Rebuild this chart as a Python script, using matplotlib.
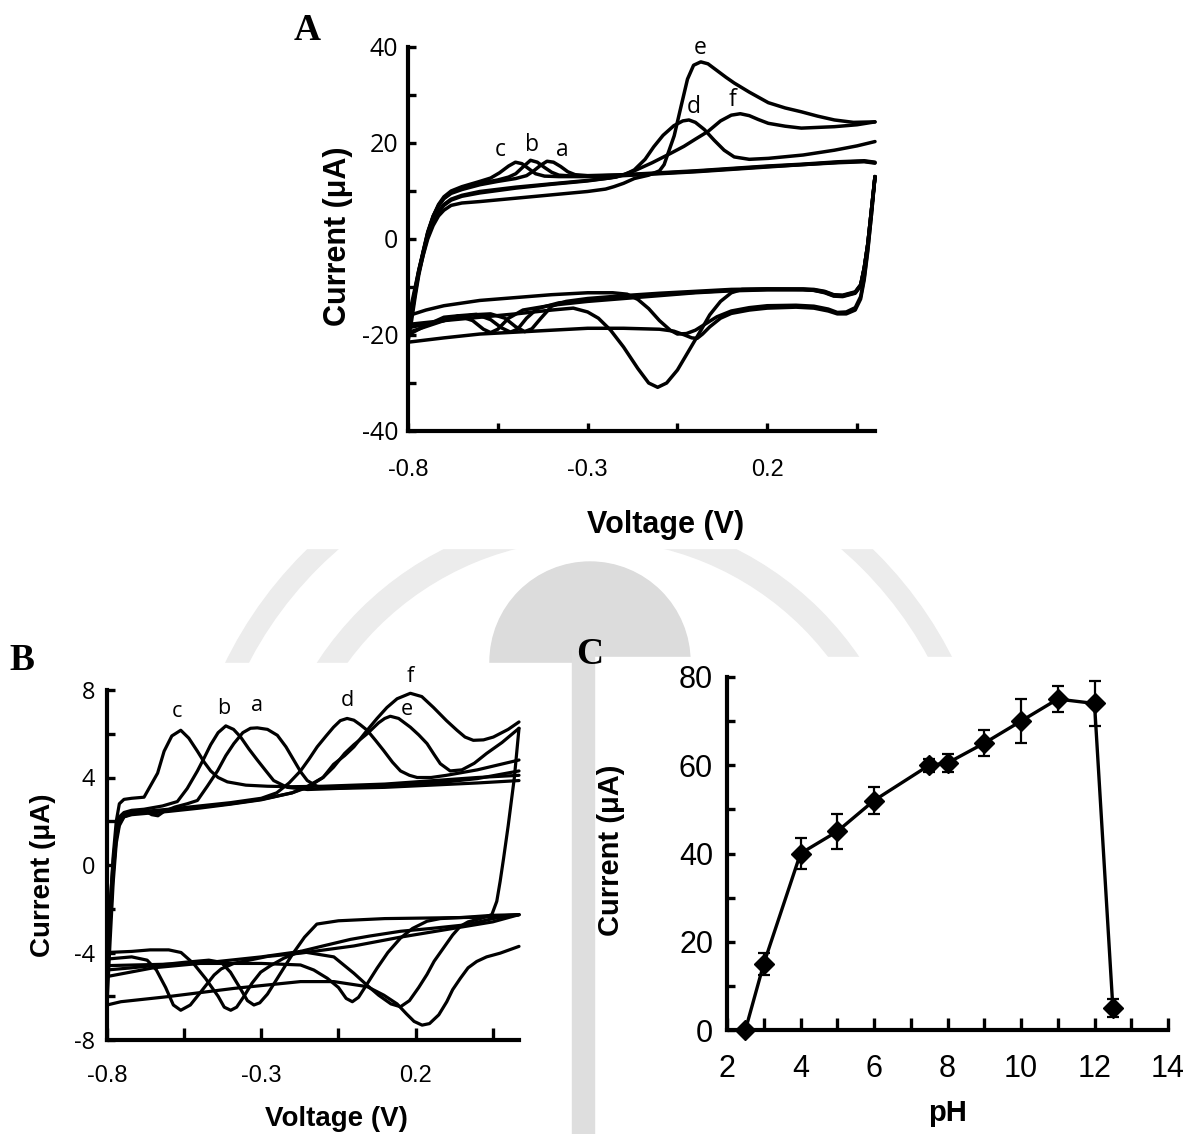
import numpy as np
import matplotlib
matplotlib.use('Agg')
import matplotlib.pyplot as plt
from matplotlib.patches import Rectangle, Wedge, Circle
from matplotlib.transforms import Affine2D

W, H = 1183, 1134

# ---------------- panel A : CVs (voltage V, current uA) ----------------
A_fwd_a = [(-0.8,-18.5),(-0.79,-15),(-0.78,-10.5),(-0.77,-6.5),(-0.757,-2.3),(-0.745,1.5),(-0.73,4.8),(-0.715,7),(-0.7,8.4),(-0.68,9.5),(-0.65,10.3),(-0.6,11.3),(-0.55,12),(-0.5,12.6),(-0.47,13.2),(-0.45,14.2),(-0.43,15.4),(-0.413,16.2),(-0.395,16),(-0.375,15.1),(-0.355,14),(-0.335,13.4),(-0.3,13.2),(-0.2,13.4),(-0.1,13.8),(0.0,14.2),(0.1,14.7),(0.2,15.2),(0.3,15.6),(0.4,16.1),(0.47,16.3),(0.5,16.0)]
A_fwd_b = [(-0.8,-19.5),(-0.79,-15.5),(-0.78,-11),(-0.77,-6.8),(-0.757,-2.5),(-0.745,1.3),(-0.73,4.6),(-0.715,6.9),(-0.7,8.5),(-0.68,9.7),(-0.65,10.6),(-0.6,11.6),(-0.55,12.3),(-0.52,12.9),(-0.5,13.6),(-0.48,15),(-0.459,16.4),(-0.44,16),(-0.42,14.9),(-0.4,13.9),(-0.38,13.3),(-0.34,13.1),(-0.3,13.1),(-0.2,13.3),(-0.1,13.7),(0.0,14.1),(0.1,14.6),(0.2,15.1),(0.3,15.5),(0.4,16.0),(0.47,16.2),(0.5,15.9)]
A_fwd_c = [(-0.8,-20),(-0.79,-16),(-0.78,-11.3),(-0.77,-7),(-0.757,-2.6),(-0.745,1.2),(-0.73,4.7),(-0.715,7.2),(-0.7,8.8),(-0.68,10),(-0.65,10.9),(-0.6,12),(-0.57,12.7),(-0.545,13.8),(-0.52,15.2),(-0.501,16),(-0.483,15.7),(-0.465,14.7),(-0.445,13.6),(-0.42,13.1),(-0.38,13),(-0.3,13),(-0.2,13.2),(-0.1,13.6),(0.0,14.0),(0.1,14.5),(0.2,15.0),(0.3,15.5),(0.4,15.9),(0.47,16.1),(0.5,15.8)]
A_fwd_d = [(-0.8,-16),(-0.79,-13.5),(-0.78,-10),(-0.77,-6.5),(-0.757,-2.6),(-0.745,0.8),(-0.73,3.8),(-0.715,5.8),(-0.7,7.2),(-0.68,8.3),(-0.65,9.1),(-0.6,9.9),(-0.5,10.8),(-0.4,11.5),(-0.3,12.2),(-0.24,12.7),(-0.2,13.3),(-0.17,14.4),(-0.14,16.6),(-0.116,19.2),(-0.09,21.6),(-0.06,23.6),(-0.035,24.6),(-0.018,24.8),(0.0,24.3),(0.025,22.8),(0.052,20.6),(0.08,18.5),(0.108,17.1),(0.15,16.6),(0.203,16.8),(0.3,17.5),(0.387,18.5),(0.45,19.4),(0.5,20.3)]
A_fwd_e = [(-0.8,-17.8),(-0.79,-14.5),(-0.78,-10.5),(-0.77,-7),(-0.757,-3.2),(-0.745,0),(-0.73,2.8),(-0.715,4.8),(-0.7,6),(-0.68,7),(-0.65,7.5),(-0.6,7.8),(-0.5,8.5),(-0.4,9.2),(-0.3,9.9),(-0.25,10.4),(-0.227,10.9),(-0.2,11.6),(-0.17,12.6),(-0.13,13.3),(-0.1,14.2),(-0.087,15.5),(-0.073,18.5),(-0.059,21.5),(-0.04,27.6),(-0.022,33.3),(-0.005,36.2),(0.015,36.9),(0.035,36.5),(0.06,35.1),(0.085,33.7),(0.108,32.5),(0.15,30.6),(0.203,28.4),(0.25,27.3),(0.295,26.5),(0.34,25.6),(0.387,24.8),(0.44,24.3),(0.5,24.4)]
A_fwd_f = [(-0.8,-21.5),(-0.79,-17),(-0.78,-12),(-0.77,-7.5),(-0.757,-3),(-0.745,0.6),(-0.73,3.6),(-0.715,5.6),(-0.7,7),(-0.68,8.1),(-0.65,8.9),(-0.6,9.6),(-0.5,10.6),(-0.4,11.4),(-0.3,12.1),(-0.22,12.9),(-0.17,14.2),(-0.12,15.9),(-0.07,17.8),(-0.032,19.3),(0.0,20.8),(0.035,22.4),(0.07,24.6),(0.1,25.8),(0.125,26.1),(0.15,25.7),(0.175,24.9),(0.203,24.1),(0.25,23.5),(0.295,23.1),(0.387,23.4),(0.45,23.8),(0.5,24.4)]

A_rev_a = [(0.5,13),(0.49,6),(0.48,-1),(0.47,-6),(0.46,-9.5),(0.445,-11),(0.41,-11.7),(0.385,-11.6),(0.36,-10.9),(0.33,-10.5),(0.3,-10.4),(0.2,-10.4),(0.1,-10.5),(0.0,-10.9),(-0.1,-11.3),(-0.2,-11.8),(-0.3,-12.4),(-0.36,-13),(-0.4,-14),(-0.43,-16.5),(-0.455,-18.7),(-0.475,-19.3),(-0.5,-18.3),(-0.53,-16.5),(-0.57,-15.6),(-0.62,-15.8),(-0.7,-17),(-0.8,-18.5)]
A_rev_b = [(0.5,13),(0.49,6),(0.48,-1),(0.47,-6),(0.46,-9.6),(0.445,-11.1),(0.41,-11.8),(0.385,-11.7),(0.36,-11),(0.33,-10.6),(0.3,-10.5),(0.2,-10.5),(0.1,-10.7),(0.0,-11.1),(-0.1,-11.6),(-0.2,-12.1),(-0.3,-12.7),(-0.38,-13.3),(-0.44,-14.5),(-0.47,-16.5),(-0.495,-18.8),(-0.515,-19.4),(-0.54,-18.5),(-0.57,-16.8),(-0.61,-15.7),(-0.66,-16),(-0.72,-17.5),(-0.8,-19.5)]
A_rev_c = [(0.5,13),(0.49,6),(0.48,-1),(0.47,-6),(0.46,-9.7),(0.445,-11.2),(0.41,-11.9),(0.385,-11.8),(0.36,-11.1),(0.33,-10.7),(0.3,-10.6),(0.2,-10.6),(0.1,-10.8),(0.0,-11.2),(-0.1,-11.8),(-0.2,-12.4),(-0.3,-13),(-0.4,-13.8),(-0.48,-14.8),(-0.52,-16.5),(-0.55,-18.8),(-0.57,-19.5),(-0.59,-18.8),(-0.62,-17),(-0.66,-16),(-0.7,-16.3),(-0.75,-18),(-0.8,-20)]
A_rev_d = [(0.5,13),(0.49,5),(0.48,-2),(0.47,-8),(0.46,-12),(0.445,-14.3),(0.42,-15.2),(0.395,-15.3),(0.37,-14.6),(0.33,-14),(0.28,-13.8),(0.2,-13.9),(0.15,-14.3),(0.1,-15),(0.06,-16.2),(0.03,-17.6),(0.0,-19),(-0.025,-19.7),(-0.05,-19.8),(-0.07,-19),(-0.1,-17),(-0.13,-14.5),(-0.16,-12.6),(-0.19,-11.5),(-0.23,-11.2),(-0.3,-11.2),(-0.4,-11.6),(-0.5,-12.2),(-0.6,-12.8),(-0.7,-13.9),(-0.75,-14.8),(-0.8,-16)]
A_rev_e = [(0.5,13),(0.49,6),(0.48,-1),(0.47,-6.2),(0.46,-9.8),(0.445,-11.3),(0.41,-12),(0.385,-11.9),(0.36,-11.2),(0.33,-10.7),(0.3,-10.5),(0.2,-10.4),(0.13,-10.5),(0.1,-11.2),(0.07,-13),(0.04,-15.8),(0.017,-18.8),(-0.02,-23.5),(-0.05,-27.3),(-0.08,-30),(-0.105,-30.9),(-0.13,-30),(-0.16,-27),(-0.2,-22.5),(-0.236,-19),(-0.27,-16.5),(-0.3,-15.2),(-0.34,-14.4),(-0.4,-14.8),(-0.5,-15.6),(-0.6,-16.3),(-0.7,-17),(-0.8,-17.8)]
A_rev_f = [(0.5,13),(0.49,5),(0.48,-2.5),(0.47,-8.5),(0.46,-12.5),(0.445,-14.8),(0.42,-15.6),(0.395,-15.6),(0.37,-15),(0.33,-14.4),(0.28,-14.2),(0.2,-14.4),(0.15,-14.8),(0.1,-15.5),(0.07,-16.5),(0.04,-18.3),(0.02,-19.8),(0.005,-20.7),(-0.01,-20.6),(-0.03,-20),(-0.06,-19.2),(-0.1,-18.8),(-0.2,-18.6),(-0.3,-18.6),(-0.4,-19),(-0.5,-19.4),(-0.6,-19.8),(-0.7,-20.6),(-0.8,-21.5)]

A_labels = ['a', 'b', 'c', 'd', 'e', 'f']
A_label_pos = [(-0.371,18.5),(-0.454,19.6),(-0.543,18.5),(-0.005,27.6),(0.014,39.7),(0.102,29.0)]

# ---------------- panel B : CVs ----------------
B_fwd_a = [(-0.8,-4.8),(-0.79,-2.4),(-0.78,-0.3),(-0.77,1.3),(-0.76,2.1),(-0.745,2.35),(-0.72,2.45),(-0.68,2.5),(-0.655,2.3),(-0.635,2.25),(-0.615,2.45),(-0.58,2.65),(-0.54,2.8),(-0.507,2.95),(-0.475,3.6),(-0.442,4.3),(-0.415,5.0),(-0.389,5.55),(-0.36,6.05),(-0.335,6.25),(-0.313,6.27),(-0.28,6.2),(-0.248,5.93),(-0.22,5.4),(-0.195,4.8),(-0.172,4.25),(-0.151,3.86),(-0.12,3.6),(-0.08,3.5),(0.0,3.55),(0.1,3.6),(0.2,3.7),(0.3,3.8),(0.4,3.95),(0.535,4.3)]
B_fwd_b = [(-0.8,-4.0),(-0.79,-1.8),(-0.78,0.2),(-0.77,1.5),(-0.76,2.2),(-0.745,2.4),(-0.72,2.5),(-0.68,2.55),(-0.62,2.7),(-0.572,2.9),(-0.54,3.5),(-0.507,4.3),(-0.485,4.9),(-0.464,5.5),(-0.44,6.05),(-0.415,6.36),(-0.39,6.2),(-0.367,5.85),(-0.34,5.3),(-0.313,4.8),(-0.285,4.3),(-0.26,3.86),(-0.216,3.55),(-0.15,3.45),(-0.05,3.5),(0.1,3.55),(0.25,3.65),(0.4,3.75),(0.535,3.86)]
B_fwd_c = [(-0.8,-4.3),(-0.79,-2.0),(-0.78,0.4),(-0.77,2.0),(-0.76,2.8),(-0.745,3.0),(-0.72,3.05),(-0.68,3.1),(-0.66,3.6),(-0.636,4.2),(-0.615,5.2),(-0.59,5.9),(-0.561,6.16),(-0.535,5.8),(-0.507,5.2),(-0.485,4.7),(-0.464,4.3),(-0.44,4.0),(-0.41,3.8),(-0.35,3.65),(-0.28,3.6),(-0.2,3.58),(-0.1,3.6),(0.0,3.65),(0.1,3.7),(0.2,3.8),(0.3,3.9),(0.4,4.0),(0.535,4.1)]
B_fwd_d = [(-0.8,-4.6),(-0.79,-2.3),(-0.78,-0.1),(-0.77,1.4),(-0.76,2.0),(-0.745,2.3),(-0.72,2.4),(-0.68,2.45),(-0.6,2.55),(-0.5,2.7),(-0.4,2.85),(-0.3,3.05),(-0.25,3.3),(-0.21,3.75),(-0.173,4.3),(-0.145,4.85),(-0.119,5.4),(-0.09,5.9),(-0.066,6.3),(-0.044,6.6),(-0.022,6.7),(0.0,6.62),(0.02,6.42),(0.043,6.16),(0.07,5.7),(0.096,5.24),(0.125,4.7),(0.151,4.3),(0.18,4.1),(0.205,4.0),(0.25,4.0),(0.3,4.1),(0.4,4.35),(0.535,4.8)]
B_fwd_e = [(-0.8,-5.1),(-0.79,-2.7),(-0.78,-0.4),(-0.77,1.2),(-0.76,1.9),(-0.745,2.2),(-0.72,2.35),(-0.68,2.4),(-0.6,2.5),(-0.5,2.65),(-0.4,2.8),(-0.3,3.0),(-0.2,3.3),(-0.15,3.6),(-0.1,4.0),(-0.066,4.47),(-0.03,5.1),(0.0,5.5),(0.043,6.0),(0.08,6.5),(0.1,6.7),(0.118,6.8),(0.145,6.7),(0.183,6.3),(0.21,5.95),(0.237,5.55),(0.26,5.05),(0.28,4.63),(0.312,4.3),(0.35,4.35),(0.39,4.65),(0.43,5.1),(0.48,5.6),(0.535,6.25)]
B_fwd_f = [(-0.8,-6.4),(-0.79,-3.5),(-0.78,-0.8),(-0.77,1.0),(-0.76,1.8),(-0.745,2.2),(-0.72,2.3),(-0.68,2.35),(-0.6,2.45),(-0.5,2.6),(-0.4,2.78),(-0.3,2.98),(-0.2,3.3),(-0.15,3.55),(-0.1,4.0),(-0.066,4.6),(-0.03,5.0),(0.0,5.4),(0.043,6.16),(0.075,6.7),(0.107,7.2),(0.14,7.6),(0.183,7.85),(0.22,7.7),(0.258,7.2),(0.3,6.6),(0.334,6.16),(0.36,5.85),(0.387,5.7),(0.42,5.72),(0.452,5.85),(0.5,6.2),(0.535,6.54)]

B_rev_a = [(0.535,-2.27),(0.41,-2.39),(0.258,-2.42),(0.1,-2.45),(-0.05,-2.55),(-0.12,-2.7),(-0.16,-3.3),(-0.2,-4.1),(-0.24,-5.0),(-0.28,-5.9),(-0.305,-6.3),(-0.324,-6.4),(-0.345,-6.2),(-0.37,-5.6),(-0.4,-4.9),(-0.43,-4.45),(-0.47,-4.35),(-0.55,-4.45),(-0.65,-4.6),(-0.72,-4.7),(-0.8,-4.8)]
B_rev_b = [(0.535,-2.27),(0.45,-2.45),(0.366,-2.73),(0.25,-2.9),(0.151,-3.03),(0.05,-3.25),(-0.011,-3.4),(-0.1,-3.7),(-0.173,-3.95),(-0.227,-4.26),(-0.27,-4.6),(-0.302,-4.9),(-0.33,-5.4),(-0.356,-6.0),(-0.38,-6.5),(-0.399,-6.64),(-0.42,-6.5),(-0.44,-6.0),(-0.48,-5.2),(-0.52,-4.5),(-0.56,-4.0),(-0.6,-3.88),(-0.66,-3.88),(-0.72,-3.95),(-0.8,-4.0)]
B_rev_c = [(0.535,-2.27),(0.45,-2.6),(0.3,-2.95),(0.15,-3.3),(0.0,-3.7),(-0.173,-4.03),(-0.28,-4.18),(-0.388,-4.49),(-0.43,-4.75),(-0.453,-5.03),(-0.496,-5.8),(-0.53,-6.4),(-0.561,-6.64),(-0.585,-6.4),(-0.61,-5.6),(-0.64,-4.8),(-0.67,-4.35),(-0.72,-4.2),(-0.8,-4.3)]
B_rev_d = [(0.535,-2.27),(0.45,-2.3),(0.35,-2.4),(0.28,-2.45),(0.237,-2.57),(0.19,-2.9),(0.151,-3.34),(0.11,-4.0),(0.075,-4.72),(0.04,-5.5),(0.015,-6.05),(-0.005,-6.25),(-0.025,-6.1),(-0.05,-5.6),(-0.086,-5.18),(-0.13,-4.8),(-0.173,-4.57),(-0.3,-4.5),(-0.5,-4.5),(-0.65,-4.55),(-0.8,-4.6)]
B_rev_e = [(0.535,6.25),(0.52,4.0),(0.5,1.8),(0.485,0.3),(0.474,-0.74),(0.463,-1.66),(0.447,-2.27),(0.41,-2.45),(0.37,-2.6),(0.345,-2.8),(0.32,-3.2),(0.29,-3.8),(0.26,-4.4),(0.237,-5.0),(0.21,-5.6),(0.18,-6.2),(0.151,-6.48),(0.12,-6.35),(0.08,-5.95),(0.043,-5.5),(0.0,-4.95),(-0.065,-4.2),(-0.173,-3.95),(-0.3,-4.2),(-0.5,-4.5),(-0.65,-4.7),(-0.8,-5.1)]
B_rev_f = [(0.535,-3.72),(0.474,-4.03),(0.43,-4.2),(0.398,-4.41),(0.37,-4.7),(0.345,-5.18),(0.32,-5.7),(0.301,-6.25),(0.275,-6.85),(0.245,-7.25),(0.221,-7.32),(0.195,-7.15),(0.17,-6.8),(0.14,-6.35),(0.097,-5.95),(0.043,-5.56),(-0.065,-5.33),(-0.173,-5.33),(-0.388,-5.64),(-0.604,-6.02),(-0.755,-6.25),(-0.8,-6.4)]

B_labels = ['a', 'b', 'c', 'd', 'e', 'f']
B_label_pos = [(-0.313,7.3),(-0.422,7.17),(-0.572,7.0),(-0.022,7.5),(0.172,7.1),(0.183,8.6)]

# ---------------- panel C : pH dependence ----------------
ph = [2.5, 3, 4, 5, 6, 7.5, 8, 9, 10, 11, 12, 12.5]
ph_current = [0, 15, 40, 45, 52, 60, 60.5, 65, 70, 75, 74, 5]
ph_err = [0, 2.5, 3.5, 4, 3, 1.5, 2, 3, 5, 3, 5, 2]

sans = ['Liberation Sans', 'DejaVu Sans']
fig = plt.figure(figsize=(W / 100, H / 100), dpi=100)

# faint watermark behind the panels (pixel coordinates, y down)
px = Affine2D().scale(1 / W, -1 / H).translate(0, 1) + fig.transFigure
wm = '#ececec'
fig.patches.append(Wedge((590, 840), 405, 0, 360, width=20, transform=px, color=wm, zorder=-5))
fig.patches.append(Wedge((590, 840), 325, 0, 360, width=24, transform=px, color=wm, zorder=-5))
fig.patches.append(Circle((590, 662), 100, transform=px, color='#dcdcdc', zorder=-5))
fig.patches.append(Rectangle((572, 650), 22, 500, transform=px, color='#dedede', zorder=-3))
fig.patches.append(Rectangle((262, 0), 645, 548, transform=px, color='white', zorder=-4))
fig.patches.append(Rectangle((0, 663), 572, 480, transform=px, color='white', zorder=-4))
fig.patches.append(Rectangle((594, 657), 590, 480, transform=px, color='white', zorder=-4))


def add_ax(l, t, r, b):
    return fig.add_axes([l / W, 1 - b / H, (r - l) / W, (b - t) / H])


def frame(ax, lw=3.0):
    for s in ['top', 'right']:
        ax.spines[s].set_visible(False)
    for s in ['left', 'bottom']:
        ax.spines[s].set_linewidth(lw)
    ax.patch.set_alpha(0)


def cv_panel(ax, fwds, revs, labels, pos, ylim, ymaj, ymin, xmax, lw, lab_fs, xtick_len, xpad, ypad, yfs):
    for f, r in zip(fwds, revs):
        f = np.array(f)
        r = np.array(r)
        ax.plot(f[:, 0], f[:, 1], color='k', lw=lw, solid_joinstyle='round', solid_capstyle='round', clip_on=False)
        ax.plot(r[:, 0], r[:, 1], color='k', lw=lw, solid_joinstyle='round', solid_capstyle='round', clip_on=False)
    for t, (x, y) in zip(labels, pos):
        ax.text(x, y, t, ha='center', va='center', fontsize=lab_fs, family=['Open Sans', 'DejaVu Sans'])
    ax.set_xlim(-0.8, xmax)
    ax.set_ylim(*ylim)
    ax.set_xticks([-0.8, -0.3, 0.2])
    ax.set_xticklabels(['-0.8', '-0.3', '0.2'], family=sans, fontsize=17)
    ax.set_xticks([-0.55, -0.05, 0.45], minor=True)
    ax.set_yticks(ymaj)
    ax.set_yticklabels([str(v) for v in ymaj], family=['Open Sans', 'DejaVu Sans'], fontsize=yfs)
    ax.set_yticks(ymin, minor=True)
    ax.tick_params(axis='x', which='both', direction='in', length=xtick_len, width=2.4, pad=xpad)
    ax.tick_params(axis='y', which='both', direction='in', length=6, width=2.4, pad=ypad)


# panel A
axA = add_ax(408, 47, 875, 431)
frame(axA)
cv_panel(axA, [A_fwd_a, A_fwd_b, A_fwd_c, A_fwd_d, A_fwd_e, A_fwd_f],
         [A_rev_a, A_rev_b, A_rev_c, A_rev_d, A_rev_e, A_rev_f],
         A_labels, A_label_pos, (-40, 40), [-40, -20, 0, 20, 40], [-30, -10, 10, 30],
         0.5, 2.5, 16.5, 6, 20, 7, 18)
axA.set_xlabel('Voltage (V)', fontsize=22, fontweight='bold', family=sans, va='center')
axA.xaxis.set_label_coords(0.552, -0.245)
axA.set_ylabel('Current (μA)', fontsize=22, fontweight='bold', family=sans, va='center')
axA.yaxis.set_label_coords(-0.15, 0.507)

# panel B
axB = add_ax(107, 690, 519, 1040)
frame(axB)
cv_panel(axB, [B_fwd_a, B_fwd_b, B_fwd_c, B_fwd_d, B_fwd_e, B_fwd_f],
         [B_rev_a, B_rev_b, B_rev_c, B_rev_d, B_rev_e, B_rev_f],
         B_labels, B_label_pos, (-8, 8), [-8, -4, 0, 4, 8], [-6, -2, 2, 6],
         0.535, 2.3, 15.5, 9, 18, 8.5, 17)
axB.set_xlabel('Voltage (V)', fontsize=20, fontweight='bold', family=sans, va='center')
axB.xaxis.set_label_coords(0.557, -0.226)
axB.set_ylabel('Current (μA)', fontsize=20, fontweight='bold', family=sans, va='center')
axB.yaxis.set_label_coords(-0.155, 0.47)

# panel C
axC = add_ax(727, 677, 1168, 1030)
frame(axC)
axC.errorbar(ph, ph_current, yerr=ph_err, color='k', lw=2.4, marker='D', markersize=10,
             elinewidth=1.6, capsize=4.5, capthick=1.6, clip_on=False, zorder=3)
axC.set_xlim(2, 14)
axC.set_ylim(0, 80)
narrow = ['Liberation Sans Narrow', 'Liberation Sans', 'DejaVu Sans']
axC.set_xticks(range(2, 15, 2))
axC.set_xticklabels([str(v) for v in range(2, 15, 2)], family=narrow, fontsize=22)
axC.set_xticks(range(3, 14, 2), minor=True)
axC.set_yticks(range(0, 81, 20))
axC.set_yticklabels([str(v) for v in range(0, 81, 20)], family=narrow, fontsize=22)
axC.set_yticks(range(10, 80, 20), minor=True)
axC.tick_params(axis='x', which='both', direction='in', length=9, width=2.4, pad=17)
axC.tick_params(axis='y', which='both', direction='in', length=6, width=2.4, pad=10)
axC.set_xlabel('pH', fontsize=21, fontweight='bold', family=sans, va='center')
axC.xaxis.set_label_coords(0.501, -0.235)
axC.set_ylabel('Current (μA)', fontsize=21, fontweight='bold', family=sans, va='center')
axC.yaxis.set_label_coords(-0.262, 0.51)

# panel letters
serif = ['Liberation Serif', 'DejaVu Serif']
fig.text(307 / W, 1 - 30 / H, 'A', fontsize=27, fontweight='bold', family=serif, ha='center', va='center')
fig.text(22 / W, 1 - 660 / H, 'B', fontsize=27, fontweight='bold', family=serif, ha='center', va='center')
fig.text(590 / W, 1 - 655 / H, 'C', fontsize=27, fontweight='bold', family=serif, ha='center', va='center')

fig.savefig('out.png', dpi=100, facecolor='white')
